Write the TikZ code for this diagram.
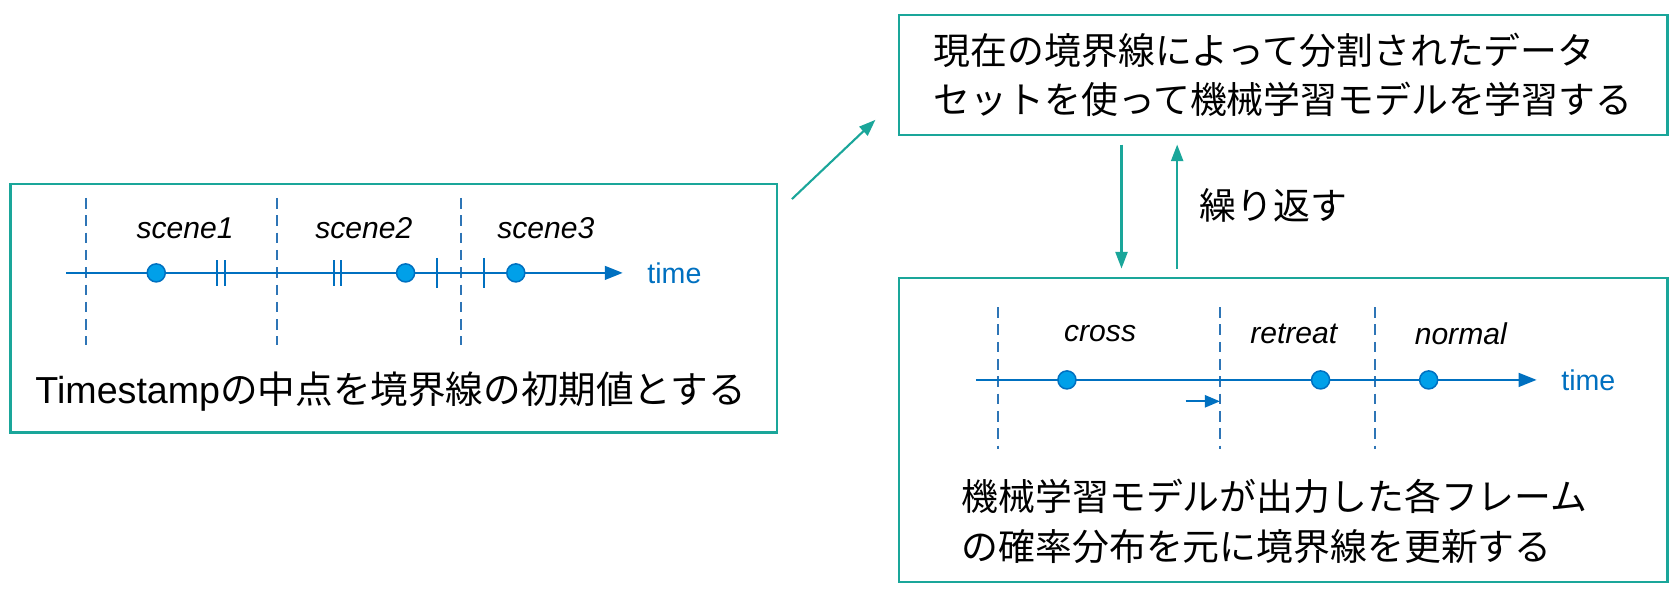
\documentclass[tikz,border=0pt]{standalone}
\usepackage{fontspec}
\setmainfont{Liberation Sans}
\newfontfamily\jp{Noto Sans CJK JP}
\usepackage{xcolor}
\usepackage{tikz}
\usetikzlibrary{positioning,arrows.meta}
\definecolor{FrameTeal}{RGB}{26,166,154}
\definecolor{TimeBlue}{RGB}{0,112,192}
\definecolor{DotBlue}{RGB}{0,160,233}
\definecolor{BoundBlue}{RGB}{46,117,182}

\tikzset{
	frame/.style={draw=FrameTeal, line width=1.5pt},
	link/.style={draw=FrameTeal, line width=1.4pt, -{Triangle[length=11pt,width=8pt]}},
	timeline/.style={draw=TimeBlue, line width=1.8pt, -{Triangle[length=12pt,width=9pt]}},
	boundary/.style={draw=BoundBlue, line width=1.3pt, dash pattern=on 7pt off 4.5pt},
	stamp/.style={circle, fill=DotBlue, draw=TimeBlue, line width=1pt, inner sep=0pt, minimum size=12pt},
	tick/.style={draw=TimeBlue, line width=1.3pt},
	scenelabel/.style={font=\fontsize{20}{24}\selectfont\itshape},
	timelabel/.style={text=TimeBlue, font=\fontsize{19}{22}\selectfont},
	jptext/.style={font=\jp\fontsize{24.5}{33}\selectfont, align=left},
}

\begin{document}
\begin{tikzpicture}[x=0.025cm, y=-0.025cm]
	\useasboundingbox (0,0) rectangle (1568,555);
	% boxes
	\node[frame, minimum width=17.9cm, minimum height=5.8cm] (init) at (368,288) {};
	\node[frame, jptext, minimum width=17.95cm, minimum height=2.8cm] (train) at (1199,70) {現在の境界線によって分割されたデータ\\セットを使って機械学習モデルを学習する};
	\node[frame, minimum width=17.95cm, minimum height=7.1cm] (update) at (1199,402) {};
	% connectors
	\coordinate (from) at (740,186);
	\coordinate (to) at (818,112);
	\coordinate (down) at (1048,0);
	\coordinate (up) at (1100,0);
	\draw[link] (from) -- (to);
	\draw[link, shorten <=0.2cm, shorten >=0.2cm] (train.south -| down) -- (update.north -| down);
	\draw[link, shorten <=0.2cm, shorten >=0.2cm] (update.north -| up) -- (train.south -| up);
	\node[jptext, anchor=west] (repeat) at (1116,192) {繰り返す};

	% initial boundaries
	\draw[boundary] (80,185) -- (80,322);
	\draw[boundary] (259,185) -- (259,322);
	\draw[boundary] (431,185) -- (431,322);
	\draw[timeline] (62,255) -- (582,255);
	\draw[tick] (203,243) -- (203,267);
	\draw[tick] (210,243) -- (210,267);
	\draw[tick] (312,243) -- (312,267);
	\draw[tick] (319,243) -- (319,267);
	\draw[tick] (408,241) -- (408,269);
	\draw[tick] (452,241) -- (452,269);
	\node[stamp] (s1) at (146,255) {};
	\node[stamp] (s2) at (379,255) {};
	\node[stamp] (s3) at (482,255) {};
	\node[scenelabel] (scene1) at (173,213) {scene1};
	\node[scenelabel] (scene2) at (340,213) {scene2};
	\node[scenelabel] (scene3) at (510,213) {scene3};
	\node[timelabel, anchor=west] (time1) at (600,255) {time};
	\node[jptext, font=\jp\fontsize{25}{33}\selectfont] (inittext) at (365,366) {{\normalfont Timestamp}の中点を境界線の初期値とする};

	% updated boundaries
	\draw[boundary] (933,287) -- (933,420);
	\draw[boundary] (1140,287) -- (1140,420);
	\draw[boundary] (1285,287) -- (1285,420);
	\draw[timeline] (912,355) -- (1436,355);
	\node[stamp] (f1) at (997,355) {};
	\node[stamp] (f2) at (1234,355) {};
	\node[stamp] (f3) at (1335,355) {};
	\coordinate (shift) at (1108,375);
	\coordinate (shifted) at (1140,375);
	\draw[timeline, line width=1.5pt, -{Triangle[length=10pt,width=8pt]}] (shift) -- (shifted);
	\node[scenelabel] (cross) at (1028,312) {cross};
	\node[scenelabel] (retreat) at (1209,312) {retreat};
	\node[scenelabel] (normal) at (1365,312) {normal};
	\node[timelabel, anchor=west] (time2) at (1454,355) {time};
	\node[jptext] (updtext) at (1191,487) {機械学習モデルが出力した各フレーム\\の確率分布を元に境界線を更新する};
\end{tikzpicture}
\end{document}
